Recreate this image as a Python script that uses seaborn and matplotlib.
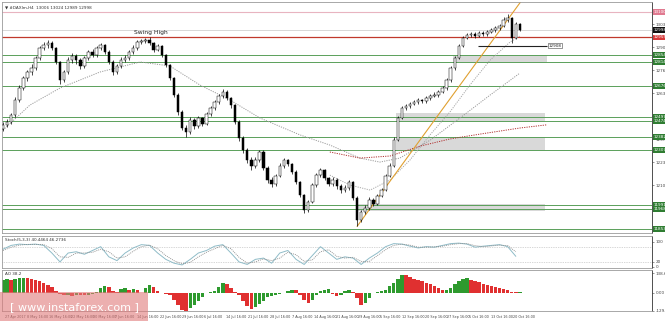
import numpy as np
import pandas as pd
import matplotlib
matplotlib.use("Agg")
import matplotlib.pyplot as plt
import matplotlib.transforms as mtransforms
from matplotlib.patches import Rectangle
import seaborn as sns

sns.set_theme(style="white")
plt.rcParams['font.family'] = ['DejaVu Sans']

# ---------------- data ----------------
title_text = "\u25bc #DAXIm,H4  13006 13024 12989 12998"
opens = [12430, 12451, 12468, 12509, 12595, 12664, 12722, 12756, 12779, 12837,
         12894, 12912, 12923, 12894, 12814, 12710, 12756, 12825, 12848, 12825,
         12791, 12837, 12871, 12854, 12894, 12912, 12871, 12814, 12756, 12791,
         12825, 12837, 12871, 12894, 12929, 12935, 12940, 12925, 12883, 12906,
         12854, 12797, 12722, 12624, 12526, 12434, 12411, 12480, 12446, 12492,
         12457, 12515, 12549, 12584, 12618, 12641, 12607, 12566, 12468, 12376,
         12307, 12250, 12215, 12250, 12296, 12204, 12135, 12112, 12158, 12215,
         12250, 12227, 12181, 12123, 12048, 11962, 12008, 12106, 12163, 12192,
         12146, 12112, 12135, 12100, 12077, 12089, 12123, 12031, 11905, 11951,
         11974, 12020, 11997, 12043, 12077, 12158, 12215, 12365, 12492, 12549,
         12561, 12572, 12584, 12595, 12589, 12607, 12618, 12624, 12641, 12664,
         12710, 12779, 12837, 12906, 12952, 12969, 12975, 12963, 12981, 12975,
         12986, 12998, 13009, 13021, 13056, 13067, 12952, 13032]
highs = [12470, 12485, 12520, 12610, 12680, 12735, 12770, 12800, 12850, 12905,
         12930, 12940, 12935, 12900, 12820, 12770, 12840, 12865, 12860, 12835,
         12850, 12885, 12890, 12905, 12925, 12920, 12880, 12825, 12805, 12840,
         12855, 12885, 12910, 12940, 12945, 12950, 12955, 12930, 12920, 12912,
         12860, 12805, 12730, 12635, 12540, 12450, 12495, 12490, 12505, 12500,
         12525, 12560, 12595, 12630, 12660, 12650, 12615, 12575, 12480, 12390,
         12320, 12265, 12265, 12310, 12305, 12215, 12150, 12170, 12230, 12262,
         12258, 12235, 12190, 12130, 12055, 12020, 12120, 12175, 12205, 12200,
         12155, 12150, 12145, 12110, 12105, 12135, 12130, 12040, 11965, 11990,
         12035, 12030, 12055, 12090, 12170, 12230, 12380, 12505, 12560, 12575,
         12585, 12598, 12605, 12602, 12618, 12630, 12640, 12652, 12675, 12722,
         12790, 12850, 12918, 12965, 12982, 12988, 12985, 12995, 12992, 12998,
         13010, 13022, 13035, 13070, 13090, 13072, 13045, 13040]
lows = [12415, 12440, 12455, 12500, 12585, 12650, 12705, 12740, 12770, 12825,
        12880, 12895, 12880, 12800, 12690, 12700, 12745, 12810, 12805, 12775,
        12780, 12825, 12840, 12845, 12880, 12860, 12800, 12740, 12745, 12780,
        12815, 12825, 12860, 12885, 12915, 12925, 12910, 12870, 12875, 12840,
        12785, 12710, 12610, 12510, 12420, 12385, 12400, 12430, 12435, 12445,
        12450, 12505, 12540, 12575, 12605, 12595, 12550, 12455, 12360, 12290,
        12235, 12195, 12205, 12240, 12190, 12120, 12095, 12100, 12150, 12205,
        12215, 12170, 12110, 12035, 11945, 11950, 12000, 12095, 12150, 12135,
        12100, 12100, 12085, 12060, 12065, 12080, 12020, 11868, 11895, 11940,
        11965, 11985, 11990, 12035, 12070, 12150, 12210, 12360, 12485, 12540,
        12550, 12565, 12575, 12578, 12580, 12598, 12610, 12615, 12635, 12655,
        12700, 12770, 12830, 12898, 12945, 12958, 12950, 12955, 12962, 12965,
        12978, 12988, 13000, 13015, 13045, 12925, 12945, 12990]
closes = [12451, 12468, 12509, 12595, 12664, 12722, 12756, 12779, 12837, 12894,
          12912, 12923, 12894, 12814, 12710, 12756, 12825, 12848, 12825, 12791,
          12837, 12871, 12854, 12894, 12912, 12871, 12814, 12756, 12791, 12825,
          12837, 12871, 12894, 12929, 12935, 12940, 12925, 12883, 12906, 12854,
          12797, 12722, 12624, 12526, 12434, 12411, 12480, 12446, 12492, 12457,
          12515, 12549, 12584, 12618, 12641, 12607, 12566, 12468, 12376, 12307,
          12250, 12215, 12250, 12296, 12204, 12135, 12112, 12158, 12215, 12250,
          12227, 12181, 12123, 12048, 11962, 12008, 12106, 12163, 12192, 12146,
          12112, 12135, 12100, 12077, 12089, 12123, 12031, 11905, 11951, 11974,
          12020, 11997, 12043, 12077, 12158, 12215, 12365, 12492, 12549, 12561,
          12572, 12584, 12595, 12589, 12607, 12618, 12624, 12641, 12664, 12710,
          12779, 12837, 12906, 12952, 12969, 12975, 12963, 12981, 12975, 12986,
          12998, 13009, 13021, 13056, 13067, 12952, 13032, 12998]

# moving averages / trend lines read as key points (bar index, price)
ma_slow_idx = [0, 6.6, 14, 23.8, 33.7, 41, 48.4, 55.8, 63.1, 73, 80.3, 87.7, 92.6, 97.5, 105, 112.3, 119.7, 127]
ma_slow_val = [12422, 12566, 12664, 12756, 12814, 12791, 12681, 12595, 12492, 12394, 12336, 12261, 12238, 12261, 12365, 12492, 12624, 12750]
ma_fast_idx = [80.3, 85.2, 90.2, 95.1, 100, 104.9, 109.8, 114.7, 119.7, 124.6, 127]
ma_fast_val = [12163, 12106, 12077, 12135, 12250, 12394, 12526, 12681, 12825, 12929, 12963]
ma_red_idx = [80.3, 87.7, 95.1, 102.5, 109.8, 117.2, 127, 133.5]
ma_red_val = [12296, 12261, 12273, 12330, 12371, 12399, 12434, 12452]
trend_idx = [87, 128]
trend_val = [11868, 13186]

# horizontal levels
pink_level = 13100
red_level = 12955
bid_level = 12998
green_levels = [12854, 12814, 12676, 12497, 12474, 12382, 12307, 11991, 11968, 11853]
support_level = 12908
zones = [  # (start idx, end idx, low, high)
    (110.6, 133.7, 12814, 12854),
    (96.6, 133.2, 12474, 12520),
    (96.6, 133.2, 12307, 12382),
    (87.0, 133.2, 11955, 11995),
]
price_ticks = [13032, 12900, 12767, 12635, 12502, 12370, 12237, 12105, 11972]

# stochastic (every second bar)
stoch_idx = list(range(0, 128, 2))
stoch_main = [70, 85, 90, 88, 90, 85, 55, 20, 55, 60, 50, 65, 80, 40, 25, 55,
              75, 88, 85, 55, 30, 15, 8, 30, 55, 65, 82, 88, 55, 20, 10, 30,
              35, 15, 55, 65, 30, 10, 45, 80, 55, 30, 40, 35, 10, 35, 55, 80,
              92, 90, 82, 75, 80, 78, 85, 92, 94, 90, 78, 82, 85, 88, 80, 42]
stoch_signal = [65, 78, 86, 89, 89, 88, 72, 40, 38, 55, 55, 58, 70, 60, 35, 40,
                62, 80, 86, 72, 45, 25, 12, 18, 40, 58, 72, 85, 72, 38, 15, 20,
                32, 25, 35, 58, 48, 22, 28, 60, 68, 42, 35, 38, 22, 22, 45, 68,
                85, 90, 86, 78, 78, 79, 82, 88, 92, 92, 84, 80, 83, 86, 84, 60]

# awesome oscillator, one value per bar
ao_values = [90, 95, 92, 96, 100, 102, 100, 98, 90, 80, 68, 55, 42, 10, -12, -20,
             -18, -22, -15, -18, -20, -14, -8, 5, 30, 50, 40, 10, 2, 25, 35, 20,
             28, 18, -5, 30, 52, 40, 10, -5, -10, -20, -50, -90, -120, -132, -110, -85,
             -60, -30, -5, 5, 10, 40, 68, 60, 30, 5, -20, -60, -95, -115, -105, -80,
             -60, -30, -25, -20, -10, -5, 10, 20, 15, -20, -55, -70, -50, -15, 10, 22,
             25, -10, -25, -15, 12, 15, 5, -40, -85, -75, -35, -5, 5, 8, 20, 45,
             68, 95, 128, 125, 110, 98, 88, 80, 70, 58, 45, 30, 15, 18, 35, 60,
             85, 98, 100, 92, 82, 72, 60, 52, 45, 38, 30, 25, 18, 6, 2, 4]

date_labels = ["27 Apr 2017", "8 May 16:00", "16 May 16:00", "22 May 16:00", "30 May 16:00",
               "7 Jun 16:00", "14 Jun 16:00", "22 Jun 16:00", "29 Jun 16:00", "6 Jul 16:00",
               "14 Jul 16:00", "21 Jul 16:00", "28 Jul 16:00", "7 Aug 16:00", "14 Aug 16:00",
               "21 Aug 16:00", "29 Aug 16:00", "5 Sep 16:00", "12 Sep 16:00", "20 Sep 16:00",
               "27 Sep 16:00", "5 Oct 16:00", "13 Oct 16:00", "20 Oct 16:00"]
date_label_idx = [0.5, 5.9, 11.3, 16.8, 22.2, 27.6, 33.0, 38.5, 43.9, 49.3, 54.7, 60.2,
                  65.6, 71.0, 76.4, 81.9, 87.3, 92.7, 98.1, 103.6, 109.0, 114.4, 119.8, 125.3]

# ---------------- figure ----------------
W, H = 665, 321
fig = plt.figure(figsize=(W / 100, H / 100), dpi=100)
fig.patch.set_facecolor("white")

def fx(px):
    return px / W

def fy(py):
    return 1 - py / H

left, right = 2, 652
ax = fig.add_axes([fx(left), fy(233), fx(right) - fx(left), fy(2) - fy(233)])
ax_st = fig.add_axes([fx(left), fy(268), fx(right) - fx(left), fy(236) - fy(268)])
ax_ao = fig.add_axes([fx(left), fy(311), fx(right) - fx(left), fy(270) - fy(311)])

xlim = (-0.25, 159.46)
for a in (ax, ax_st, ax_ao):
    a.set_facecolor("white")
    a.set_xlim(*xlim)
    for s in a.spines.values():
        s.set_color("#9a9a9a")
        s.set_linewidth(0.6)
    a.spines["right"].set_color("#333333")
    a.yaxis.tick_right()
    a.tick_params(axis="y", labelsize=3.0, length=1.5, width=0.4, pad=1, colors="#444444")
    a.tick_params(axis="x", length=0)

GREEN_LINE = "#5aa05a"
GREEN_BOX = "#2f7d32"

# ----- main price panel -----
ax.set_ylim(11830, 13159)
blend = mtransforms.blended_transform_factory(ax.transAxes, ax.transData)

for (x0, x1, lo, hi) in zones:
    ax.add_patch(Rectangle((x0, lo), x1 - x0, hi - lo, facecolor="#d9d9d9", edgecolor="none", zorder=0))

ax.axhline(pink_level, color="#e8b4c0", lw=0.8, zorder=1)
ax.axhline(bid_level, color="#c8c8c8", lw=0.5, zorder=1)
ax.axhline(red_level, color="#c0392b", lw=0.9, zorder=1)
for lv in green_levels:
    ax.axhline(lv, color=GREEN_LINE, lw=0.7, zorder=1)

ax.hlines(support_level, 116.7, 133.7, color="#222222", lw=0.8, zorder=3)
ax.text(134.0, support_level, "12908", fontsize=3.0, color="#222222", va="center", ha="left",
        bbox=dict(boxstyle="square,pad=0.2", fc="white", ec="#444444", lw=0.4), zorder=4)

# moving averages and trendline
sns.lineplot(x=ma_slow_idx, y=ma_slow_val, ax=ax, color="#9a9a9a", lw=0.7, linestyle=(0, (1.2, 1.2)), zorder=2)
sns.lineplot(x=ma_fast_idx, y=ma_fast_val, ax=ax, color="#a8a8a8", lw=0.7, linestyle=(0, (1.2, 1.2)), zorder=2)
sns.lineplot(x=ma_red_idx, y=ma_red_val, ax=ax, color="#b03030", lw=0.7, linestyle=(0, (1.2, 1.2)), zorder=2)
sns.lineplot(x=trend_idx, y=trend_val, ax=ax, color="#e0a030", lw=0.8, zorder=2)

# candles
o = np.array(opens); c = np.array(closes); hi_ = np.array(highs); lo_ = np.array(lows)
idx = np.arange(len(c))
ax.vlines(idx, lo_, hi_, color="black", lw=0.5, zorder=3)
body_lo = np.minimum(o, c)
body_h = np.maximum(np.abs(c - o), 2)
ax.bar(idx, body_h, bottom=body_lo, width=0.6,
       color=np.where(c >= o, "white", "black"), edgecolor="black", linewidth=0.35, zorder=4)

ax.set_yticks(price_ticks)
ax.set_yticklabels([str(t) for t in price_ticks])
ax.set_xticks([])
ax.set_ylabel("")
ax.set_xlabel("")

def level_box(a, tr, val, fc, tc="white"):
    a.text(1.003, val, str(val), transform=tr, fontsize=3.0, color=tc, va="center", ha="left",
           bbox=dict(boxstyle="square,pad=0.2", fc=fc, ec="none"), clip_on=False, zorder=6)

level_box(ax, blend, pink_level, "#e07a90")
level_box(ax, blend, bid_level, "#111111")
level_box(ax, blend, red_level, "#d83a3a")
for lv in green_levels:
    level_box(ax, blend, lv, GREEN_BOX)

ax.text(36.3, 12983, "Swing High", fontsize=4.3, ha="center", va="center", color="#222222")
ax.text(0.004, 0.975, title_text, transform=ax.transAxes, fontsize=3.0, ha="left", va="center", color="#333333")

# ----- stochastic panel -----
ax_st.set_ylim(-4, 122)
ax_st.axhline(80, color="#b0b0b0", lw=0.5, linestyle=(0, (1, 1.5)))
ax_st.axhline(20, color="#b0b0b0", lw=0.5, linestyle=(0, (1, 1.5)))
sns.lineplot(x=stoch_idx, y=stoch_main, ax=ax_st, color="#8fbcc8", lw=0.7)
sns.lineplot(x=stoch_idx, y=stoch_signal, ax=ax_st, color="#8a8a8a", lw=0.6, linestyle=(0, (1.2, 1.2)))
ax_st.set_yticks([100, 20, 0])
ax_st.set_yticklabels(["100", "20", "0"])
ax_st.set_xticks([])
ax_st.set_ylabel(""); ax_st.set_xlabel("")
ax_st.text(0.004, 0.88, "Stoch(5,3,3) 40.4464 46.2736", transform=ax_st.transAxes,
           fontsize=3.0, ha="left", va="center", color="#333333")

# ----- AO panel -----
ax_ao.set_ylim(-130, 160)
ao = np.array(ao_values)
prev = np.r_[ao[0], ao[:-1]]
ao_colors = np.where(ao >= prev, "#2e9a2e", "#e03030")
ax_ao.bar(np.arange(len(ao)), ao, width=0.85, color=ao_colors, edgecolor="none", zorder=2)
ax_ao.set_yticks([138.6, 0, -129.8])
ax_ao.set_yticklabels(["138.6", "0.00", "-129.8"])
ax_ao.set_xticks(date_label_idx)
ax_ao.set_xticklabels(date_labels, fontsize=2.4, color="#444444", ha="left")
ax_ao.tick_params(axis="x", pad=1.5, length=1.5, width=0.4)
ax_ao.set_ylabel(""); ax_ao.set_xlabel("")
ax_ao.text(0.004, 0.9, "AO 38.2", transform=ax_ao.transAxes,
           fontsize=3.0, ha="left", va="center", color="#333333")

# ----- watermark -----
fig.patches.append(Rectangle((0, 0), fx(148), 29 / H, transform=fig.transFigure,
                             facecolor="#e07a7a", alpha=0.6, edgecolor="none", zorder=10))
fig.text(fx(74), fy(307), "[ www.instaforex.com ]", fontsize=8, color="white",
         ha="center", va="center", zorder=11)

fig.savefig("out.png", dpi=100, facecolor="white")
